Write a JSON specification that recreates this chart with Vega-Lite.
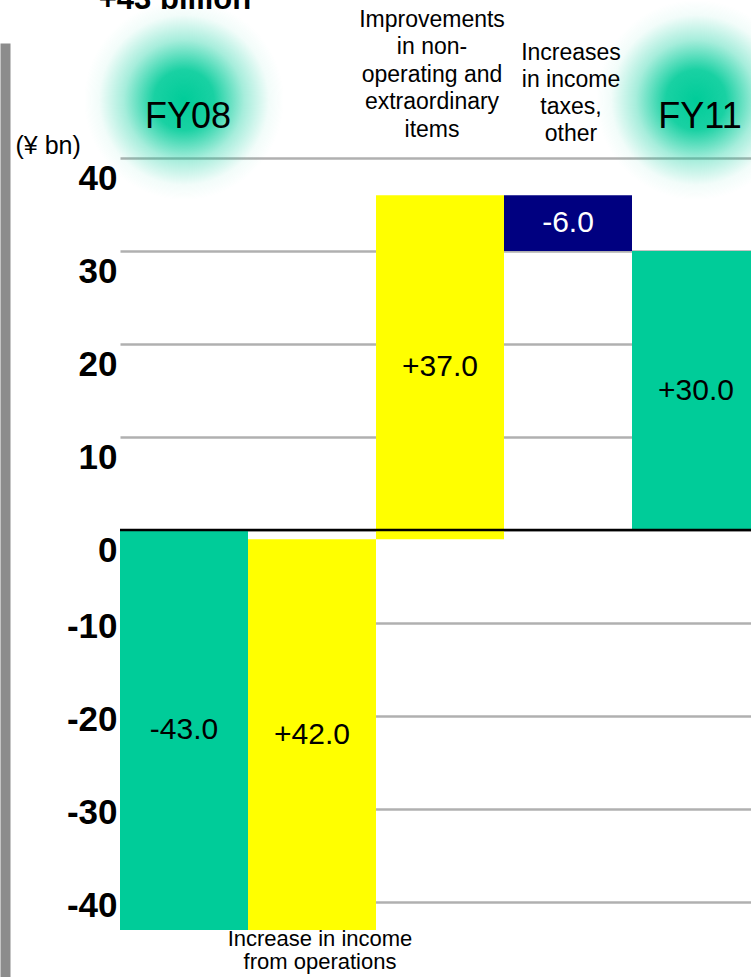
{
  "$schema": "https://vega.github.io/schema/vega-lite/v6.json",
  "width": 631,
  "height": 934,
  "autosize": {"type": "none"},
  "padding": {"left": 120, "top": 43, "right": 0, "bottom": 0},
  "background": "white",
  "config": {"view": {"stroke": null}, "font": "Liberation Sans"},
  "datasets": {
    "bars": [
      {"cat": "FY08", "start": 0, "end": -43, "label": "-43.0", "kind": "total"},
      {"cat": "Operations", "start": -43, "end": -1, "label": "+42.0", "kind": "increase"},
      {"cat": "NonOp", "start": -1, "end": 36, "label": "+37.0", "kind": "increase"},
      {"cat": "Taxes", "start": 36, "end": 30, "label": "-6.0", "kind": "decrease"},
      {"cat": "FY11", "start": 0, "end": 30, "label": "+30.0", "kind": "total"}
    ],
    "years": [{"cat": "FY08", "text": "FY08"}, {"cat": "FY11", "text": "FY11"}],
    "nonop": [{"cat": "NonOp", "text": "Improvements\nin non-\noperating and\nextraordinary\nitems"}],
    "taxes": [{"cat": "Taxes", "text": "Increases\nin income\ntaxes,\nother"}],
    "bottomcats": [{"cat": "Operations", "text": "Increase in income\nfrom operations"}],
    "headline": [{"cat": "FY08", "text": "+43 billion"}],
    "zero": [{"v": 0}]
  },
  "layer": [
    {
      "data": {"name": "years"},
      "mark": {
        "type": "bar",
        "width": 200,
        "fill": {
          "gradient": "radial",
          "x1": 0.5, "y1": 0.5, "r1": 0,
          "x2": 0.5, "y2": 0.5, "r2": 0.5,
          "stops": [
            {"offset": 0, "color": "rgba(0,204,153,1)"},
            {"offset": 0.3, "color": "rgba(0,204,153,0.9)"},
            {"offset": 0.6, "color": "rgba(0,204,153,0.35)"},
            {"offset": 0.85, "color": "rgba(0,204,153,0.05)"},
            {"offset": 1, "color": "rgba(0,204,153,0)"}
          ]
        }
      },
      "encoding": {
        "x": {"field": "cat", "type": "nominal", "axis": null},
        "y": {"datum": 57.0, "type": "quantitative"},
        "y2": {"datum": 35.5}
      }
    },
    {
      "data": {"name": "bars"},
      "mark": {"type": "bar"},
      "encoding": {
        "x": {
          "field": "cat",
          "type": "nominal",
          "axis": null,
          "scale": {
            "domain": ["FY08", "Operations", "NonOp", "Taxes", "FY11"],
            "range": [0, 640],
            "paddingInner": 0,
            "paddingOuter": 0
          }
        },
        "y": {
          "field": "start",
          "type": "quantitative",
          "scale": {"domain": [-48.06, 52.37], "nice": false, "zero": false},
          "axis": {
            "values": [-40, -30, -20, -10, 0, 10, 20, 30, 40],
            "labelExpr": "datum.value < 0 ? '-' + abs(datum.value) : '' + datum.value",
            "offset": 115,
            "grid": true,
            "gridOpacity": 1,
            "zindex": 0,
            "domainColor": "#8c8c8c",
            "domainWidth": 10,
            "ticks": false,
            "labelPadding": -112,
            "labelFontSize": 35,
            "labelFontWeight": "bold",
            "labelColor": "black",
            "labelFont": "Liberation Sans",
            "labelOffset": {"condition": {"test": "datum.value >= 0", "value": 20}, "value": 3},
            "labelBound": false,
            "labelOverlap": false,
            "labelFlush": false,
            "gridColor": "#b0b0b0",
            "gridWidth": 2.5,
            "title": "(¥ bn)",
            "titleAngle": 0,
            "titleX": 10,
            "titleY": 110,
            "titleAlign": "left",
            "titleBaseline": "alphabetic",
            "titleFontSize": 25,
            "titleFontWeight": "normal",
            "titleFont": "Liberation Sans",
            "titleColor": "black"
          }
        },
        "y2": {"field": "end"},
        "color": {
          "field": "kind",
          "type": "nominal",
          "legend": null,
          "scale": {"domain": ["total", "increase", "decrease"], "range": ["#00cc99", "#ffff00", "#000080"]}
        }
      }
    },
    {
      "data": {"name": "zero"},
      "mark": {"type": "rule", "color": "black", "strokeWidth": 2.5},
      "encoding": {"y": {"field": "v", "type": "quantitative"}}
    },
    {
      "data": {"name": "bars"},
      "transform": [{"calculate": "(datum.start + datum.end) / 2", "as": "mid"}],
      "mark": {"type": "text", "fontSize": 30, "font": "Liberation Sans"},
      "encoding": {
        "x": {"field": "cat", "type": "nominal", "axis": null},
        "y": {"field": "mid", "type": "quantitative"},
        "text": {"field": "label"},
        "color": {"condition": {"test": "datum.kind === 'decrease'", "value": "white"}, "value": "black"}
      }
    },
    {
      "data": {"name": "years"},
      "mark": {"type": "text", "fontSize": 36, "font": "Liberation Sans", "baseline": "alphabetic", "dx": 4, "color": "black"},
      "encoding": {
        "x": {"field": "cat", "type": "nominal", "axis": null},
        "y": {"datum": 43.2, "type": "quantitative"},
        "text": {"field": "text"}
      }
    },
    {
      "data": {"name": "nonop"},
      "mark": {"type": "text", "fontSize": 23, "font": "Liberation Sans", "baseline": "alphabetic", "lineBreak": "\n", "lineHeight": 27.5, "dx": -8, "color": "black"},
      "encoding": {
        "x": {"field": "cat", "type": "nominal", "axis": null},
        "y": {"datum": 54.1, "type": "quantitative"},
        "text": {"field": "text"}
      }
    },
    {
      "data": {"name": "taxes"},
      "mark": {"type": "text", "fontSize": 23, "font": "Liberation Sans", "baseline": "alphabetic", "lineBreak": "\n", "lineHeight": 27, "dx": 3, "color": "black"},
      "encoding": {
        "x": {"field": "cat", "type": "nominal", "axis": null},
        "y": {"datum": 50.5, "type": "quantitative"},
        "text": {"field": "text"}
      }
    },
    {
      "data": {"name": "bottomcats"},
      "mark": {"type": "text", "fontSize": 22, "font": "Liberation Sans", "baseline": "alphabetic", "lineBreak": "\n", "lineHeight": 23.5, "dx": 8, "color": "black"},
      "encoding": {
        "x": {"field": "cat", "type": "nominal", "axis": null},
        "y": {"datum": -44.7, "type": "quantitative"},
        "text": {"field": "text"}
      }
    },
    {
      "data": {"name": "headline"},
      "mark": {"type": "text", "fontSize": 31, "fontWeight": "bold", "font": "Liberation Sans", "baseline": "alphabetic", "dx": -9, "color": "black"},
      "encoding": {
        "x": {"field": "cat", "type": "nominal", "axis": null},
        "y": {"datum": 56.0, "type": "quantitative"},
        "text": {"field": "text"}
      }
    }
  ]
}
